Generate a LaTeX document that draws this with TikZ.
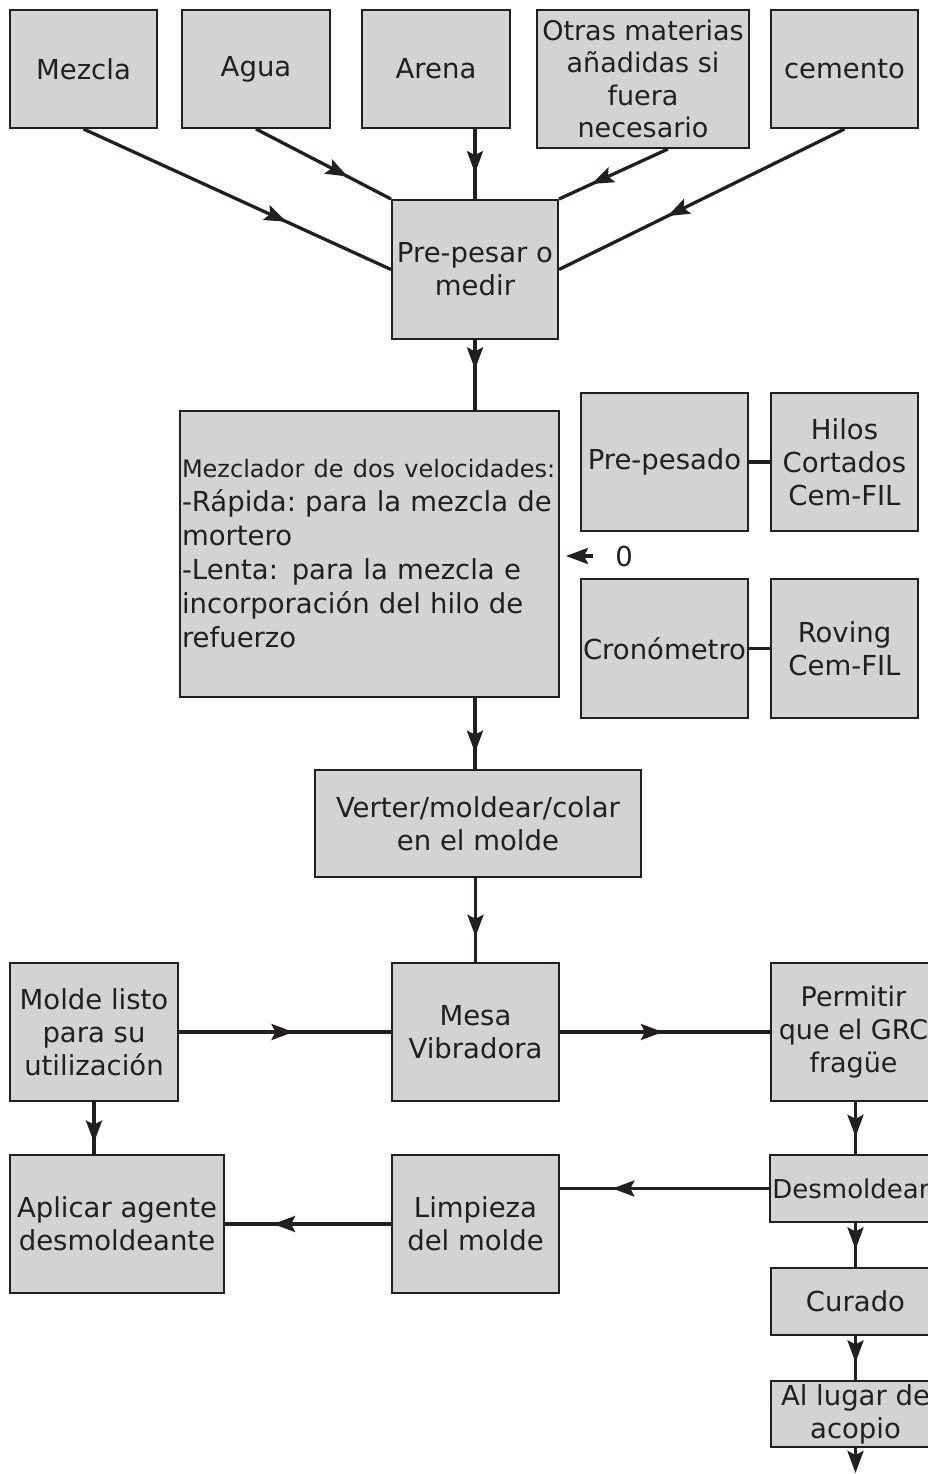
\documentclass[tikz,border=0pt]{standalone}
\usepackage{fontspec}
\setmainfont{DejaVu Sans}
\usetikzlibrary{arrows.meta}
\usetikzlibrary{decorations.markings}
\usetikzlibrary{calc}
\definecolor{caja}{HTML}{D1D3D4}
\definecolor{tinta}{HTML}{231F20}

\begin{document}
\begin{tikzpicture}[x=1pt,y=-1pt,
  box/.style={draw=tinta, line width=2pt, fill=caja, text=tinta, align=center,
    inner sep=2pt, font=\fontsize{27.5}{33}\selectfont},
  linea/.style={line width=3.3pt, draw=tinta},
  flecha/.style={linea, decoration={markings,
    mark=at position #1 with {\arrow{Stealth[length=22pt,width=16pt,inset=4pt]}}},
    postaction={decorate}},
  flecha/.default=0.62]
  \clip (0,0) rectangle (928,1474);

  \node (mezcla) [box, minimum width=147pt, minimum height=118pt] at (83.5,69) {Mezcla};
  \node (agua) [box, minimum width=148pt, minimum height=118pt] at (256,69) {Agua};
  \node (arena) [box, minimum width=148pt, minimum height=118pt] at (436,69) {Arena};
  \node (otras) [box, minimum width=212pt, minimum height=138pt,
    font=\fontsize{27}{32.5}\selectfont] at (643,79)
    {Otras materias\\añadidas si\\fuera\\necesario};
  \node (cemento) [box, minimum width=147pt, minimum height=118pt] at (844.5,69) {cemento};
  \node (prepesar) [box, minimum width=166pt, minimum height=139pt] at (475,269.5) {Pre-pesar o\\medir};

  \node (mezclador) [box, minimum width=379pt, minimum height=286pt, text width=375pt,
    align=left, font=\fontsize{27.5}{34}\selectfont] at (369.5,554)
    {\mbox{\fontsize{24}{28}\selectfont Mezclador de dos velocidades:}\\
     -Rápida:\ para la mezcla de\\mortero\\-Lenta: para la mezcla e\\
     incorporación del hilo de\\refuerzo};
  \node (prepesado) [box, minimum width=167pt, minimum height=138pt] at (664.5,462) {Pre-pesado};
  \node (hilos) [box, minimum width=147pt, minimum height=138pt] at (844.5,462) {Hilos\\Cortados\\Cem-FIL};
  \node (cronometro) [box, minimum width=167pt, minimum height=139pt] at (664.5,648.5) {Cronómetro};
  \node (roving) [box, minimum width=147pt, minimum height=139pt] at (844.5,648.5) {Roving\\Cem-FIL};
  \node (cero) [text=tinta, font=\fontsize{27.5}{33}\selectfont, inner sep=2pt] at (624,556) {0};

  \node (verter) [box, minimum width=326pt, minimum height=107pt] at (478,823.5) {Verter/moldear/colar\\en el molde};
  \node (mesa) [box, minimum width=167pt, minimum height=138pt] at (475.5,1032) {Mesa\\Vibradora};
  \node (molde) [box, minimum width=168pt, minimum height=138pt] at (94,1032) {Molde listo\\para su\\utilización};
  \node (permitir) [box, minimum width=165pt, minimum height=138pt,
    font=\fontsize{27}{33}\selectfont] at (853.5,1032) {Permitir\\que el GRC\\fragüe};
  \node (aplicar) [box, minimum width=214pt, minimum height=138pt] at (117,1224) {Aplicar agente\\desmoldeante};
  \node (limpieza) [box, minimum width=167pt, minimum height=138pt] at (475.5,1224) {Limpieza\\del molde};
  \node (desmoldear) [box, minimum width=160pt, minimum height=67pt,
    font=\fontsize{26}{33}\selectfont] at (851,1188.5) {Desmoldear};
  \node (curado) [box, minimum width=169pt, minimum height=67pt] at (855.5,1301.5) {Curado};
  \node (acopio) [box, minimum width=169pt, minimum height=66pt] at (855.5,1414) {Al lugar de\\acopio};
  \coordinate (fin) at (855.5,1473);

  \draw[flecha=0.66] (mezcla.south) -- (prepesar.west);
  \draw[flecha=0.68] (agua.south) -- (prepesar.north west);
  \draw[flecha=0.63] (prepesar.north |- arena.south) -- (prepesar.north);
  \draw[flecha=0.7] ([xshift=25pt]otras.south) -- (prepesar.north east);
  \draw[flecha=0.62] (cemento.south) -- (prepesar.east);

  \draw[flecha=0.42] (prepesar.south) -- (prepesar.south |- mezclador.north);
  \draw[linea] (prepesado) -- (hilos);
  \draw[linea] (cronometro) -- (roving);
  \draw[linea, -{Stealth[length=22pt,width=16pt,inset=4pt]}, shorten <=20pt, shorten >=6pt]
    (cero.west) -- (mezclador.east |- cero.west);
  \draw[flecha=0.77] (prepesar.south |- mezclador.south) -- (prepesar.south |- verter.north);
  \draw[flecha=0.7] (mesa.north |- verter.south) -- (mesa.north);

  \draw[flecha=0.54] (molde) -- (mesa);
  \draw[flecha=0.49] (mesa) -- (permitir);
  \draw[flecha=0.78] (molde) -- (molde.south |- aplicar.north);
  \draw[flecha=0.71] (limpieza) -- (aplicar);
  \draw[flecha=0.67] (curado.north |- permitir.south) -- (curado.north |- desmoldear.north);
  \draw[flecha=0.75] (desmoldear.west) -- (desmoldear.west -| limpieza.east);
  \draw[flecha=0.6] (curado.north |- desmoldear.south) -- (curado);
  \draw[flecha=0.6] (curado) -- (acopio);
  \draw[linea, -{Stealth[length=22pt,width=16pt,inset=4pt]}] (acopio) -- (fin);
\end{tikzpicture}
\end{document}
